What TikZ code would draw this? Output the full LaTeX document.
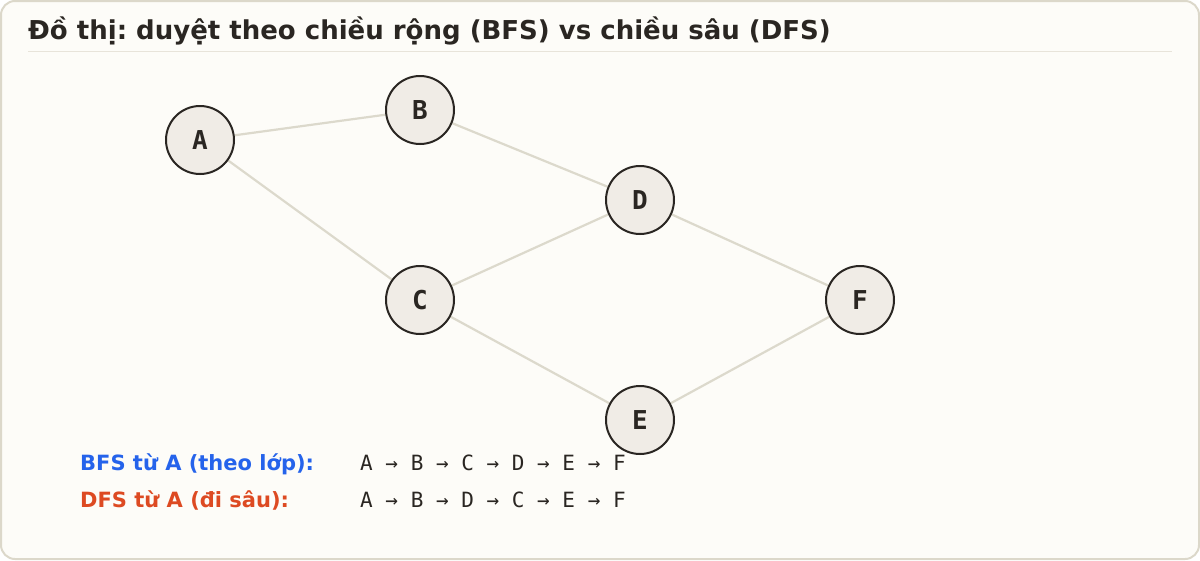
\documentclass[tikz,border=0pt]{standalone}
\usepackage{fontspec}
\usetikzlibrary{backgrounds}
\setmainfont{DejaVu Sans}
\newfontfamily\monof{DejaVu Sans Mono}
\frenchspacing
\definecolor{bg}{HTML}{FDFCF8}
\definecolor{frame}{HTML}{DCD8CA}
\definecolor{sep}{HTML}{E8E4DA}
\definecolor{ink}{HTML}{2A2622}
\definecolor{nodefill}{HTML}{F0ECE6}
\definecolor{edge}{HTML}{DCD9CC}
\definecolor{bfsblue}{HTML}{2563EB}
\definecolor{dfsred}{HTML}{DD4A22}
\tikzset{
  vert/.style={circle, draw=ink, line width=2pt, fill=nodefill, minimum size=68pt, inner sep=0pt, font=\monof\bfseries\fontsize{26}{30}\selectfont, text=ink},
  edgeline/.style={draw=edge, line width=2.2pt},
  lbl/.style={anchor=base west, inner sep=0pt, font=\bfseries\fontsize{21}{24}\selectfont},
  seq/.style={anchor=base west, inner sep=0pt, font=\monof\fontsize{21}{24}\selectfont, text=ink}
}
\begin{document}
\begin{tikzpicture}[x=1pt,y=-1pt]
\useasboundingbox (0,0) rectangle (1200,560);
\node[anchor=base west, inner sep=0pt, font=\bfseries\fontsize{26}{30}\selectfont, text=ink] (title) at (28,39) {Đồ thị: duyệt theo chiều rộng (BFS) vs chiều sâu (DFS)};
\node[vert] (A) at (200,140) {A};
\node[vert] (B) at (420,110) {B};
\node[vert] (C) at (420,300) {C};
\node[vert] (D) at (640,200) {D};
\node[vert] (E) at (640,420) {E};
\node[vert] (F) at (860,300) {F};
\begin{scope}[on background layer]
\draw[frame, fill=bg, line width=2pt, rounded corners=14pt] (1,1) rectangle (1199,559);
\draw[sep, line width=1.5pt] (28,51.5) -- (1172,51.5);
\path[edgeline] (A) -- (B) (A) -- (C) (B) -- (D) (C) -- (D) (C) -- (E) (D) -- (F) (E) -- (F);
\end{scope}
\node[lbl, text=bfsblue] (bfsl) at (80,470) {BFS từ A (theo lớp):};
\node[seq] (bfss) at (360,470) {A → B → C → D → E → F};
\node[lbl, text=dfsred] (dfsl) at (80,507) {DFS từ A (đi sâu):};
\node[seq] (dfss) at (360,507) {A → B → D → C → E → F};
\end{tikzpicture}
\end{document}
